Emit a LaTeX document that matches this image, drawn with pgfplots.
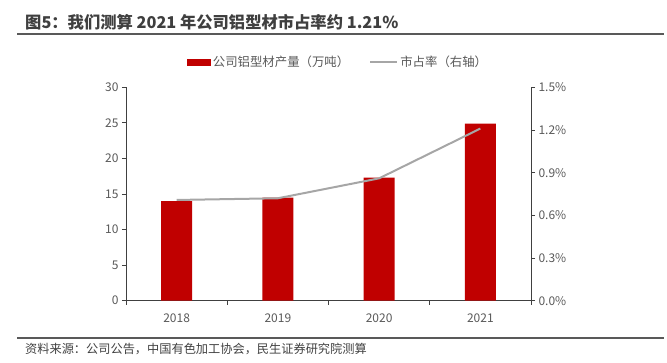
\documentclass[border=0pt]{standalone}
\usepackage{fontspec}
\setmainfont{Noto Sans CJK SC}
\usepackage{pgfplots}
\pgfplotsset{compat=1.18}
\definecolor{barred}{HTML}{C00000}
\definecolor{linegray}{HTML}{A6A6A6}
\definecolor{labgray}{HTML}{595959}
\definecolor{axgray}{HTML}{404040}
\definecolor{titlegray}{HTML}{3F3F3F}
\begin{document}
\begin{tikzpicture}[x=1pt,y=1pt]
\path[use as bounding box] (0,0) rectangle (667,362);
\node[anchor=west, font=\fontsize{16.3}{19}\selectfont\bfseries, text=titlegray, inner sep=0] at (25,340) {图5：我们测算 2021 年公司铝型材市占率约 1.21\%};
\draw[labgray, line width=1.5pt] (17,328) -- (664,328);
\pgfplotsset{
  common/.style={
    scale only axis, width=405pt, height=213.4pt,
    at={(126pt,61.3pt)}, anchor=south west,
    xmin=-0.5, xmax=3.5,
    tick align=outside,
    major tick length=4pt, minor tick length=4pt,
    every tick/.style={axgray, line width=0.8pt},
    axis line style={axgray, line width=0.8pt},
    tick label style={font=\fontsize{12}{14}\selectfont, text=labgray},
    /pgf/number format/assume math mode=true,
  }
}
\begin{axis}[common,
  axis x line*=bottom, axis y line*=left,
  ymin=0, ymax=30, ytick={0,5,10,15,20,25,30},
  xtick={0,1,2,3}, xticklabels={2018,2019,2020,2021},
  minor xtick={-0.5,0.5,1.5,2.5,3.5},
  major x tick style={draw=none},
  xticklabel style={yshift=-6pt},
  legend columns=2,
  legend style={draw=none, at={(0.5,1)}, anchor=center, xshift=9.5pt, yshift=25.3pt,
    font=\fontsize{12.4}{14}\selectfont, text=labgray,
    /tikz/every even column/.append style={column sep=18pt}},
]
\addplot[ybar, bar width=31pt, fill=barred, draw=none,
  legend image code/.code={\fill[barred] (0pt,-3.5pt) rectangle (24pt,3.5pt);}]
  coordinates {(0,14.0) (1,14.5) (2,17.3) (3,24.9)};
\addlegendentry{公司铝型材产量（万吨）}
\addlegendimage{legend image code/.code={\draw[linegray, line width=2pt] (0pt,0pt) -- (27pt,0pt);}}
\addlegendentry{市占率（右轴）}
\end{axis}
\begin{axis}[common,
  axis x line=none, axis y line*=right,
  ymin=0, ymax=1.5, ytick={0,0.3,0.6,0.9,1.2,1.5},
  yticklabel={\pgfmathprintnumber[fixed,fixed zerofill,precision=1]{\tick}\%},
]
\addplot[linegray, line width=2pt, mark=none]
  coordinates {(0,0.708) (1,0.72) (2,0.86) (3,1.21)};
\end{axis}
\draw[labgray, line width=1.2pt] (17,24) -- (664,24);
\node[anchor=west, font=\fontsize{12.2}{14}\selectfont, text=axgray, inner sep=0] at (25,13) {资料来源：公司公告，中国有色加工协会，民生证券研究院测算};
\end{tikzpicture}
\end{document}
